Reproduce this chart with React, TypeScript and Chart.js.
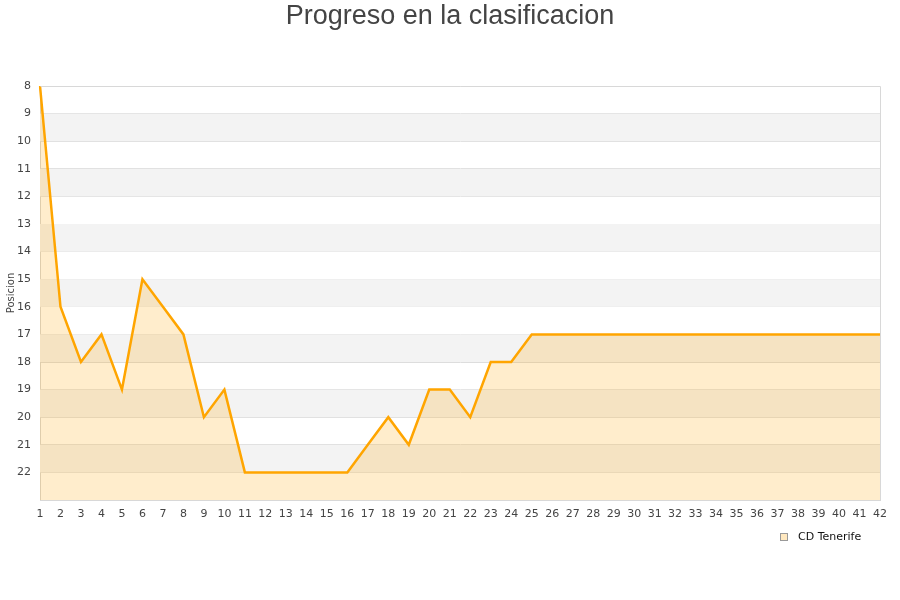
import React, { useEffect, useRef } from "react";
import { Chart, registerables } from "chart.js";

Chart.register(...registerables);

const jornadas: number[] = Array.from({ length: 42 }, (_, i) => i + 1);
const posiciones: number[] = [
  8, 16, 18, 17, 19, 15, 16, 17, 20, 19,
  22, 22, 22, 22, 22, 22, 21, 20, 21, 19,
  19, 20, 18, 18, 17, 17, 17, 17, 17, 17,
  17, 17, 17, 17, 17, 17, 17, 17, 17, 17,
  17, 17,
];
const yMin = 8;
const yMax = 23;
const teamName = "CD Tenerife";
const chartTitle = "Progreso en la clasificacion";
const yTitle = "Posicion";

const LINE = "#ffa500";
const FILL = "rgba(255,165,0,0.2)";
const TEXT = "#444444";
const FONT = "'DejaVu Sans', sans-serif";

// Alternating grey bands behind the plot, frame, title and legend.
const decorations = {
  id: "decorations",
  beforeDatasetsDraw(chart: any) {
    const { ctx, chartArea, scales } = chart;
    const y = scales.y;
    ctx.save();
    ctx.fillStyle = "#f3f3f3";
    for (let v = yMin + 1; v < yMax; v += 2) {
      const a = y.getPixelForValue(v);
      const b = y.getPixelForValue(v + 1);
      ctx.fillRect(chartArea.left, Math.min(a, b), chartArea.right - chartArea.left, Math.abs(b - a));
    }
    ctx.restore();
  },
  afterDraw(chart: any) {
    const { ctx, chartArea } = chart;
    ctx.save();
    // right and top edges of the plot frame
    ctx.strokeStyle = "#d8d8d8";
    ctx.lineWidth = 1;
    ctx.beginPath();
    ctx.moveTo(Math.round(chartArea.left) + 0.5, Math.round(chartArea.top) + 0.5);
    ctx.lineTo(Math.round(chartArea.right) + 0.5, Math.round(chartArea.top) + 0.5);
    ctx.lineTo(Math.round(chartArea.right) + 0.5, Math.round(chartArea.bottom) + 0.5);
    ctx.stroke();

    ctx.fillStyle = TEXT;
    ctx.font = "27px 'Liberation Sans', Arial, sans-serif";
    ctx.textAlign = "center";
    ctx.textBaseline = "middle";
    ctx.fillText(chartTitle, 450, 17);

    // legend
    ctx.fillStyle = "rgba(255,165,0,0.25)";
    ctx.fillRect(780.5, 533.5, 7, 7);
    ctx.strokeStyle = "#999";
    ctx.lineWidth = 1;
    ctx.strokeRect(780.5, 533.5, 7, 7);
    ctx.fillStyle = "#111";
    ctx.font = "11px " + FONT;
    ctx.textAlign = "left";
    ctx.fillText(teamName, 798, 537.5);
    ctx.restore();
  },
};

export default function App() {
  const ref = useRef<HTMLCanvasElement | null>(null);

  useEffect(() => {
    if (!ref.current) return;
    const chart = new Chart(ref.current, {
      type: "line",
      data: {
        labels: jornadas.map(String),
        datasets: [
          {
            label: teamName,
            data: posiciones,
            borderColor: LINE,
            backgroundColor: FILL,
            borderWidth: 2.5,
            fill: { value: yMax },
            pointRadius: 0,
            tension: 0,
          },
        ],
      },
      options: {
        responsive: false,
        animation: false,
        layout: { padding: { top: 86, right: 20, bottom: 0, left: 0 } },
        plugins: {
          legend: { display: false },
          title: { display: false },
          tooltip: { enabled: false },
        },
        scales: {
          x: {
            offset: false,
            grid: { display: false },
            border: { display: true, color: "#d8d8d8", width: 1 },
            ticks: {
              color: TEXT,
              font: { family: FONT, size: 11 },
              maxRotation: 0,
              autoSkip: false,
              padding: 0,
            },
            afterFit(scale: any) {
              scale.height = 100;
            },
          },
          y: {
            reverse: true,
            min: yMin,
            max: yMax,
            grid: { color: "#dddddd", drawTicks: false },
            border: { display: true, color: "#d8d8d8", width: 1 },
            ticks: {
              stepSize: 1,
              color: TEXT,
              font: { family: FONT, size: 11 },
              padding: 9,
              callback: (v: any) => (v === yMax ? "" : String(v)),
            },
            title: {
              display: true,
              text: yTitle,
              color: TEXT,
              font: { family: FONT, size: 10 },
              padding: { top: 5, bottom: 0 },
            },
            afterFit(scale: any) {
              scale.width = 40;
            },
          },
        },
      },
      plugins: [decorations],
    });
    return () => chart.destroy();
  }, []);

  return (
    <div style={{ position: "fixed", left: 0, top: 0, width: 900, height: 600, background: "#fff" }}>
      <canvas ref={ref} width={900} height={600} style={{ width: 900, height: 600 }} />
    </div>
  );
}
